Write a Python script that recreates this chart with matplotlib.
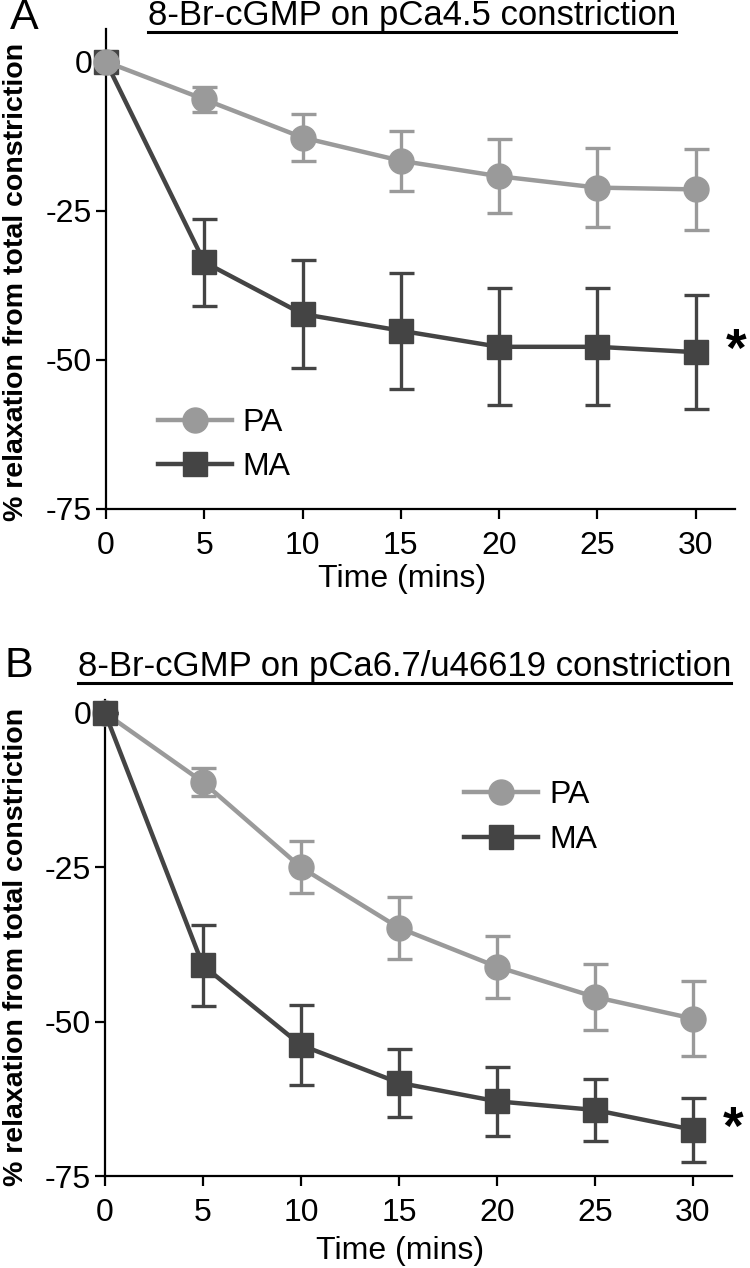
import matplotlib
matplotlib.use("Agg")
import matplotlib.pyplot as plt
from matplotlib.lines import Line2D

plt.rcParams['font.family'] = ['Liberation Sans', 'DejaVu Sans']

time = [0, 5, 10, 15, 20, 25, 30]

# Panel A: 8-Br-cGMP on pCa4.5 constriction
a_pa_mean = [0, -6.3, -12.7, -16.6, -19.2, -21.1, -21.4]
a_pa_err = [0, 2.1, 4.0, 5.0, 6.2, 6.6, 6.8]
a_ma_mean = [0, -33.6, -42.3, -45.1, -47.8, -47.8, -48.7]
a_ma_err = [0, 7.3, 9.0, 9.7, 9.8, 9.8, 9.6]

# Panel B: 8-Br-cGMP on pCa6.7/u46619 constriction
b_pa_mean = [0, -11.2, -25.0, -34.8, -41.1, -46.0, -49.5]
b_pa_err = [0, 2.3, 4.2, 5.0, 5.0, 5.4, 6.1]
b_ma_mean = [0, -40.9, -53.8, -59.9, -62.9, -64.3, -67.5]
b_ma_err = [0, 6.6, 6.5, 5.5, 5.6, 5.0, 5.2]

series_labels = ['PA', 'MA']
xticks = [0, 5, 10, 15, 20, 25, 30]
yticks = [0, -25, -50, -75]
ytick_labels = ['0', '-25', '-50', '-75']
titles = ['8-Br-cGMP on pCa4.5 constriction', '8-Br-cGMP on pCa6.7/u46619 constriction']
panel_letters = ['A', 'B']

PA_COLOR = '#9a9a9a'
MA_COLOR = '#444444'

W, H = 750, 1268
fig = plt.figure(figsize=(W / 100, H / 100), dpi=100)


def fx(px):
    return px / W


def fy(py):
    return 1 - py / H


axA = fig.add_axes([fx(106), fy(509), fx(735) - fx(106), fy(29) - fy(509)])
axB = fig.add_axes([fx(105), fy(1176), fx(732) - fx(105), fy(700) - fy(1176)])

PA_STYLE = dict(color=PA_COLOR, lw=3.2, marker='o', ms=18)
MA_STYLE = dict(color=MA_COLOR, lw=3.2, marker='s', ms=17)


def draw_panel(ax, pa_m, pa_e, ma_m, ma_e, ytop, pa_on_top):
    pa_z = 4 if pa_on_top else 3
    ma_z = 3 if pa_on_top else 4
    ax.errorbar(time, pa_m, yerr=pa_e, ecolor=PA_COLOR, elinewidth=2.4,
                capsize=9, capthick=2.4, zorder=pa_z, clip_on=False, **PA_STYLE)
    ax.errorbar(time, ma_m, yerr=ma_e, ecolor=MA_COLOR, elinewidth=2.4,
                capsize=9, capthick=2.4, zorder=ma_z, clip_on=False, **MA_STYLE)
    ax.set_xlim(0, 32)
    ax.set_ylim(-75, ytop)
    ax.set_xticks(xticks)
    ax.set_yticks(yticks)
    ax.set_yticklabels(ytick_labels)
    for s in ['top', 'right']:
        ax.spines[s].set_visible(False)
    for s in ['left', 'bottom']:
        ax.spines[s].set_linewidth(1.6)
    ax.tick_params(axis='both', direction='out', length=7, width=1.6,
                   labelsize=23, colors='black')
    ax.tick_params(axis='x', pad=9)
    ax.tick_params(axis='y', pad=3)
    ax.set_ylabel('% relaxation from total constriction', fontsize=20.5,
                  fontweight='bold')
    ax.set_xlabel('Time (mins)', fontsize=23)
    ax.text(31.55, ma_m[-1], '*', fontsize=38, fontweight='bold',
            ha='left', va='center', clip_on=False)
    handles = [Line2D([], [], **PA_STYLE), Line2D([], [], **MA_STYLE)]
    return handles


hA = draw_panel(axA, a_pa_mean, a_pa_err, a_ma_mean, a_ma_err, 5.5, True)
hB = draw_panel(axB, b_pa_mean, b_pa_err, b_ma_mean, b_ma_err, 2.1, False)

axA.yaxis.set_label_coords(-0.122, 0.474)
axB.yaxis.set_label_coords(-0.122, 0.481)
axA.xaxis.set_label_coords(0.47, -0.115)
axB.xaxis.set_label_coords(0.47, -0.125)

leg_kw = dict(frameon=False, fontsize=23, handlelength=2.3, handletextpad=0.35,
              labelspacing=0.45, borderpad=0, borderaxespad=0, numpoints=1)
axA.legend(hA, series_labels, loc='center left', bbox_to_anchor=(0.083, 0.133), **leg_kw)
axB.legend(hB, series_labels, loc='center left', bbox_to_anchor=(0.573, 0.753), **leg_kw)

fig.text(fx(10), fy(29), panel_letters[0], fontsize=31, ha='left', va='baseline')
fig.text(fx(4), fy(677), panel_letters[1], fontsize=31, ha='left', va='baseline')
tA = fig.text(fx(148), fy(25), titles[0], fontsize=25, ha='left', va='baseline')
tB = fig.text(fx(78), fy(676), titles[1], fontsize=25, ha='left', va='baseline')

fig.canvas.draw()
r = fig.canvas.get_renderer()
for t, uy in [(tA, 32), (tB, 683)]:
    bb = t.get_window_extent(renderer=r)
    x0, x1 = bb.x0 / W, bb.x1 / W
    fig.add_artist(Line2D([x0, x1], [fy(uy), fy(uy)], color='black', lw=2.2,
                          transform=fig.transFigure))

fig.savefig('out.png', dpi=100)
